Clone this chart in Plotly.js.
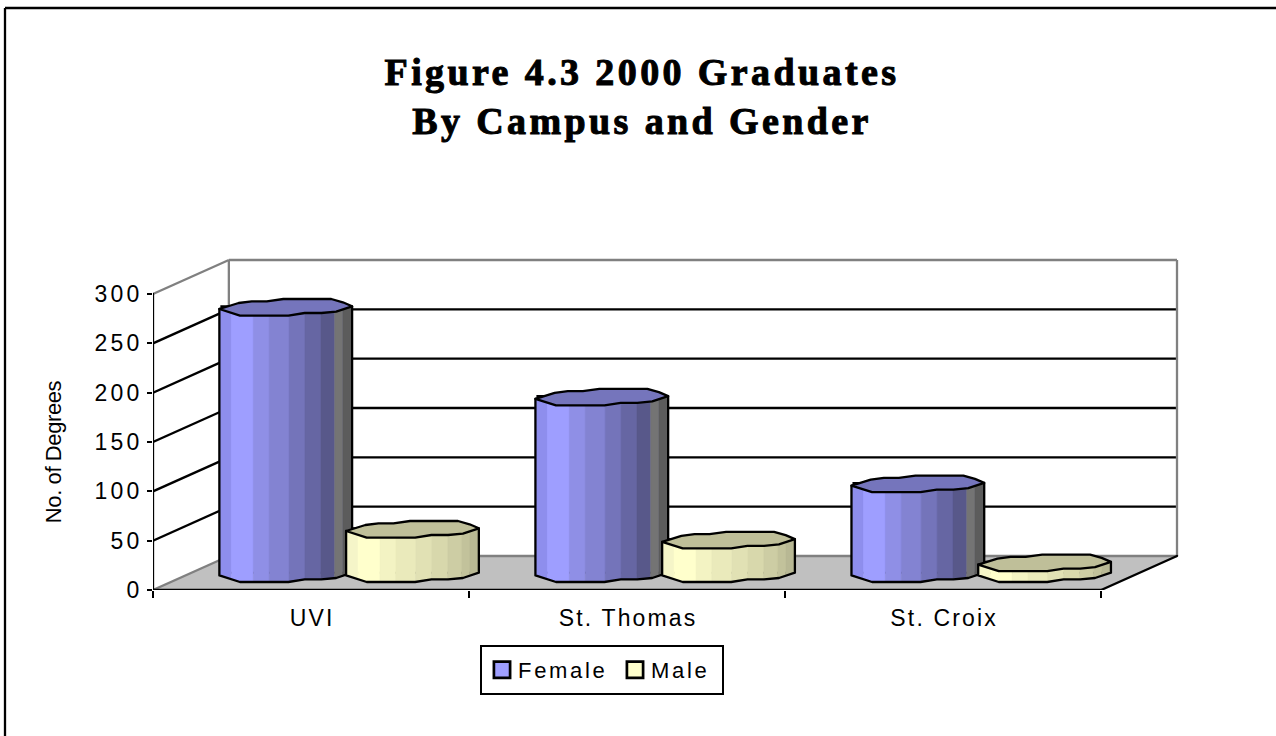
<!DOCTYPE html>
<html>
<head>
<meta charset="utf-8">
<script src="https://cdn.plot.ly/plotly-3.0.1.min.js"></script>
<style>
html,body{margin:0;padding:0;background:#fff;overflow:hidden}
.gtitle{letter-spacing:3.4px;stroke:#000;stroke-width:1px}
.xtick text{letter-spacing:2.15px;translate:1px 0}
.ytick text{letter-spacing:3.2px}
.legendtext{letter-spacing:2.7px}
.ytitle{letter-spacing:-0.4px;translate:-8px 28px}
.scatterlayer .js-line{stroke-linejoin:round !important;stroke-linecap:round !important}
</style>
</head>
<body>
<div id="chart" style="width:1276px;height:736px"></div>
<script>
// Data
var categories = ['UVI', 'St. Thomas', 'St. Croix'];
var femaleValues = [270, 179, 91];
var maleValues = [45, 34, 11];
var yTicks = [0, 50, 100, 150, 200, 250, 300];
var titleLines = ['Figure 4.3 2000 Graduates', 'By Campus and Gender'];
var yTitle = 'No. of Degrees';

// Styling
var femaleBands = ['#8E8EED','#9E9EFF','#8F8FE6','#8383D2','#7474BA','#6666A3','#58588A','#747474','#5C5C5C'];
var maleBands = ['#F5F5C8','#FFFFCC','#F3F3C3','#EAEABB','#E1E1B4','#D8D8AC','#CDCDA4','#C2C29B','#B8B894'];
var bandEdges = [0, .09, .255, .375, .525, .645, .765, .868, .93, 1];
var femaleTop = '#7575BC', maleTop = '#BFBF99', femaleLegend = '#9F9FFF', maleLegend = '#FFFFCC';
var WALL = '#808080', FLOOR = '#C0C0C0';
var LINE_W = 2.3;

var W = 1276, H = 736, M = {l:153, r:97, t:258, b:146};
var plotW = W-M.l-M.r, plotH = H-M.t-M.b;
function paperX(px){ return (px-M.l)/plotW; }
function paperY(py){ return (H-M.b-py)/plotH; }
var pxX = 316.67, pxY = 296/300;           // pixels per axis unit
var depthX = 76/pxX, depthY = 34/pxY;      // oblique depth of the box
var xEnd = categories.length;
var barW = 133/pxX;                        // cylinder width in axis units
var femaleOffset = .42, maleOffset = .821; // cylinder centre inside its category
var baseLift = 16.3/pxY;                   // cylinders stand mid-depth on the floor

// faceted rim of the cylinder: [fraction of width, pixels below centre]
var frontRim = [[0,1.7],[.155,8.3],[.52,8.3],[.643,5.7],[.768,5.7],[.88,4.3],[1,-1]];
var backRim = [[1,-1],[.93,-5],[.843,-8.3],[.482,-8.3],[.357,-6],[.244,-6],[.145,-4.3],[0,1.7]];

function rimAt(u){
  for(var i=0;i<frontRim.length-1;i++){
    var a=frontRim[i], b=frontRim[i+1];
    if(u<=b[0]) return a[1]+(b[1]-a[1])*(u-a[0])/(b[0]-a[0]);
  }
  return frontRim[frontRim.length-1][1];
}
function rimPath(u0,u1){
  var pts=[[u0,rimAt(u0)]];
  frontRim.forEach(function(p){ if(p[0]>u0 && p[0]<u1) pts.push(p); });
  pts.push([u1,rimAt(u1)]);
  return pts;
}

var traces = [];
function common(extra){
  var o = {type:'scatter', mode:'lines', showlegend:false, hoverinfo:'skip', cliponaxis:false};
  for(var k in extra) o[k]=extra[k];
  return o;
}

// front axis lines
traces.push(common({
  x:[0,0,null,0,xEnd,null,xEnd,xEnd+depthX],
  y:[0,300,null,0,0,null,0,depthY],
  line:{color:'#000',width:LINE_W}
}));

function barTrace(name, values, offset, color){
  return {
    type:'bar', name:name,
    x:values.map(function(v,i){return i+offset;}),
    y:values, base:values.map(function(){return baseLift+1/pxY;}),
    width:barW*.97,
    marker:{color:color, line:{color:'#000', width:2}},
    hoverinfo:'skip'
  };
}
traces.push(barTrace('Female', femaleValues, femaleOffset, femaleLegend));
traces.push(barTrace('Male', maleValues, maleOffset, maleLegend));

function cylinders(values, offset, bands, topColor){
  // shaded vertical bands
  bands.forEach(function(color,b){
    var xs=[], ys=[];
    values.forEach(function(v,i){
      var left=i+offset-barW/2, top=v+baseLift;
      var path=rimPath(bandEdges[b],bandEdges[b+1]);
      path.forEach(function(p){ xs.push(left+p[0]*barW); ys.push(top-p[1]/pxY); });
      path.slice().reverse().forEach(function(p){ xs.push(left+p[0]*barW); ys.push(baseLift-p[1]/pxY); });
      xs.push(xs[xs.length-path.length*2]); ys.push(ys[ys.length-path.length*2]);
      xs.push(null); ys.push(null);
    });
    traces.push(common({x:xs,y:ys,fill:'toself',fillcolor:color,line:{color:color,width:0.5}}));
  });
  // outline of side and bottom
  var ox=[], oy=[];
  values.forEach(function(v,i){
    var left=i+offset-barW/2, top=v+baseLift;
    ox.push(left); oy.push(top-frontRim[0][1]/pxY);
    frontRim.forEach(function(p){ ox.push(left+p[0]*barW); oy.push(baseLift-p[1]/pxY); });
    ox.push(left+barW); oy.push(top+1/pxY);
    ox.push(null); oy.push(null);
  });
  traces.push(common({x:ox,y:oy,line:{color:'#000',width:LINE_W}}));
  // top faces
  var tx=[], ty=[];
  values.forEach(function(v,i){
    var left=i+offset-barW/2, top=v+baseLift;
    frontRim.concat(backRim).forEach(function(p){ tx.push(left+p[0]*barW); ty.push(top-p[1]/pxY); });
    tx.push(null); ty.push(null);
  });
  traces.push(common({x:tx,y:ty,fill:'toself',fillcolor:topColor,line:{color:'#000',width:LINE_W}}));
}
cylinders(femaleValues, femaleOffset, femaleBands, femaleTop);
cylinders(maleValues, maleOffset, maleBands, maleTop);

// floor and walls
var shapes = [];
function seg(x0,y0,x1,y1,color,xref,yref){
  shapes.push({type:'line',layer:'below',xref:xref||'x',yref:yref||'y',x0:x0,y0:y0,x1:x1,y1:y1,line:{color:color,width:LINE_W}});
}
shapes.push({type:'path',layer:'below',xref:'x',yref:'y',
  path:'M0,0 L'+depthX+','+depthY+' L'+(xEnd+depthX)+','+depthY+' L'+xEnd+',0 Z',
  fillcolor:FLOOR,line:{width:0}});
yTicks.forEach(function(v){
  var edge = (v===0||v===300);
  var c = edge?WALL:'#000';
  seg(depthX,v+depthY,xEnd+depthX,v+depthY,c);
  seg(0,v,depthX,v+depthY,c);
});
seg(depthX,depthY,depthX,300+depthY,WALL);
seg(xEnd+depthX,depthY,xEnd+depthX,300+depthY,WALL);
// chart frame (runs off the page on the right and bottom)
seg(paperX(5),paperY(H),paperX(5),paperY(8),'#000','paper','paper');
seg(paperX(5),paperY(8),paperX(W),paperY(8),'#000','paper','paper');
// legend frame
shapes.push({type:'rect',layer:'above',xref:'paper',yref:'paper',
  x0:paperX(481),x1:paperX(723),y0:paperY(694),y1:paperY(646),line:{color:'#000',width:2},fillcolor:'rgba(0,0,0,0)'});

var layout = {
  width:W, height:H, autosize:false,
  margin:{l:M.l,r:M.r,t:M.t,b:M.b,pad:0},
  paper_bgcolor:'#fff', plot_bgcolor:'rgba(0,0,0,0)',
  barmode:'overlay', dragmode:false,
  title:{
    text:titleLines.join('<br>'),
    x:642/W, xanchor:'center', xref:'container',
    y:1-85/H, yanchor:'top', yref:'container',
    font:{family:'"Liberation Serif",serif',size:38,color:'#000',weight:700}
  },
  xaxis:{
    range:[0,xEnd+depthX+2/pxX], fixedrange:true,
    showgrid:false, zeroline:false, showline:false,
    tickmode:'array',
    tickvals:categories.map(function(c,i){return i+.5;}),
    ticktext:categories,
    ticks:'', ticklen:0, ticklabelstandoff:12,
    tickfont:{family:'"Liberation Sans",Arial,sans-serif',size:23,color:'#000'},
    minor:{tickmode:'array',tickvals:categories.map(function(c,i){return i;}).concat([xEnd]),
           ticks:'outside',ticklen:7,tickwidth:2,tickcolor:'#000',showgrid:false}
  },
  yaxis:{
    range:[0,300+depthY+2/pxY], fixedrange:true,
    showgrid:false, zeroline:false, showline:false,
    tickmode:'array', tickvals:yTicks, ticktext:yTicks.map(String),
    ticks:'outside', ticklen:5, tickwidth:2, tickcolor:'#000', ticklabelstandoff:0,
    tickfont:{family:'"Liberation Sans",Arial,sans-serif',size:23,color:'#000'},
    title:{text:yTitle, standoff:18, font:{family:'"Liberation Sans",Arial,sans-serif',size:22,color:'#000'}}
  },
  legend:{
    orientation:'h', x:paperX(478), xanchor:'left', y:paperY(649), yanchor:'top',
    bgcolor:'rgba(0,0,0,0)', borderwidth:0,
    entrywidth:88, entrywidthmode:'pixels', traceorder:'normal',
    font:{family:'"Liberation Sans",Arial,sans-serif',size:22,color:'#000'}
  },
  shapes:shapes,
  showlegend:true
};
Plotly.newPlot('chart', traces, layout, {displayModeBar:false, staticPlot:true}).then(function(){
  // enlarge the legend swatches to the reference's size
  document.querySelectorAll('.legend .legendpoints path').forEach(function(p){
    p.setAttribute('transform','translate(24,0) scale(1.35)');
  });
});
</script>
</body>
</html>
